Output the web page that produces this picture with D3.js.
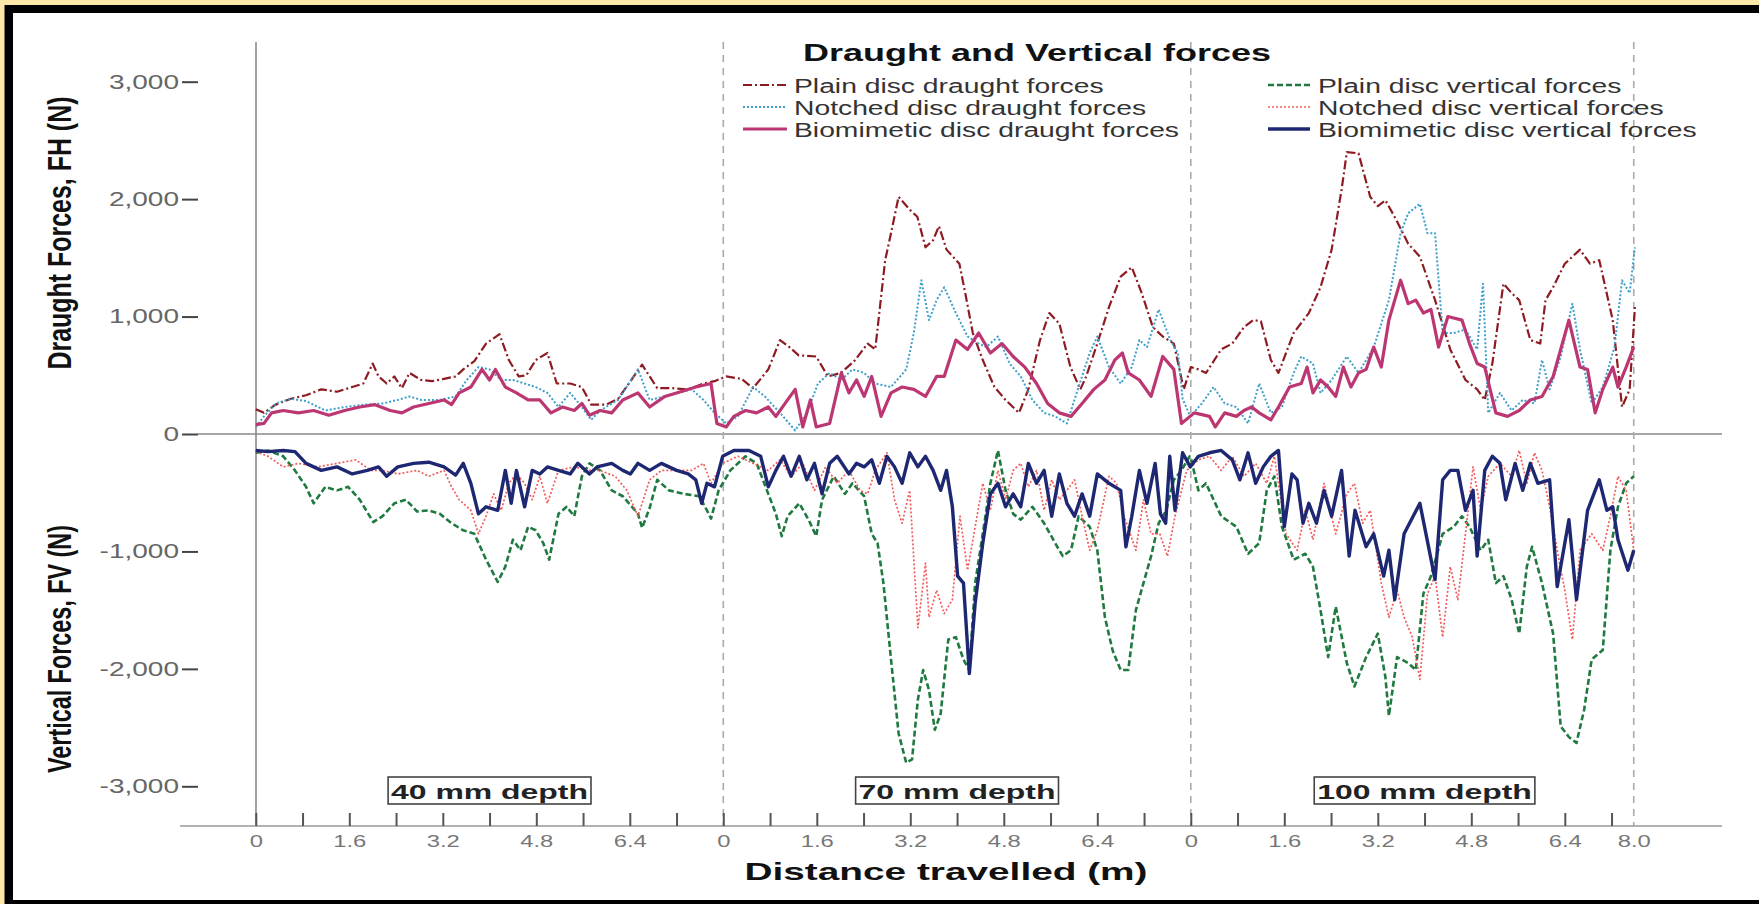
<!DOCTYPE html>
<html>
<head>
<meta charset="utf-8">
<script src="https://cdn.jsdelivr.net/npm/d3@7"></script>
<style>
  html, body { margin: 0; padding: 0; background: #fde8a9; }
  svg { display: block; }
  text { font-family: "Liberation Sans", Arial, sans-serif; }
</style>
</head>
<body>
<svg id="chart" width="1759" height="904"></svg>
<script>
// ---- Data: force readings [distance along run (m), force (N)] for each depth ----
const depthLabels = ["40 mm depth", "70 mm depth", "100 mm depth"];
const runLength = 8.0;                 // each depth run occupies 8 m on the shared axis
const xTickLabels = ["0", "", "1.6", "", "3.2", "", "4.8", "", "6.4", ""];
const xEndLabel = "8.0";
const yTicks = [-3000, -2000, -1000, 0, 1000, 2000, 3000];

const plainDraught40 = [[0,210],[0.14,180],[0.34,250],[0.6,300],[0.86,330],[1.12,380],[1.39,360],[1.65,400],[1.84,430],[2.0,600],[2.1,490],[2.24,430],[2.37,490],[2.5,390],[2.63,520],[2.83,460],[3.02,450],[3.22,470],[3.42,490],[3.55,550],[3.74,620],[3.94,770],[4.17,850],[4.33,630],[4.5,490],[4.63,500],[4.79,630],[4.99,690],[5.15,430],[5.38,430],[5.58,400],[5.74,250],[6.0,250],[6.2,300],[6.61,590],[6.87,390],[7.13,390],[7.4,380],[7.66,430],[7.85,450]];
const plainDraught70 = [[0.05,490],[0.31,470],[0.51,390],[0.77,550],[0.97,800],[1.13,740],[1.29,670],[1.59,660],[1.79,490],[2.01,520],[2.24,620],[2.47,770],[2.6,720],[2.77,1480],[2.87,1710],[3.0,2020],[3.19,1910],[3.32,1850],[3.46,1590],[3.59,1650],[3.69,1770],[3.82,1570],[4.04,1450],[4.14,1200],[4.27,860],[4.44,630],[4.64,400],[4.83,290],[5.06,180],[5.22,380],[5.42,800],[5.58,1030],[5.75,940],[5.94,570],[6.11,380],[6.21,490],[6.4,770],[6.6,1080],[6.8,1340],[6.99,1420],[7.16,1200],[7.35,910],[7.52,830],[7.71,770],[7.88,380]];
const plainDraught100 = [[0,570],[0.13,550],[0.26,520],[0.52,720],[0.71,770],[0.91,910],[1.07,970],[1.2,960],[1.37,630],[1.5,520],[1.63,690],[1.76,860],[2.02,1030],[2.22,1250],[2.41,1570],[2.58,2080],[2.67,2400],[2.87,2390],[3.07,2020],[3.2,1940],[3.33,1990],[3.52,1820],[3.72,1620],[3.92,1510],[4.18,1140],[4.44,720],[4.7,460],[4.9,380],[5.03,290],[5.16,600],[5.35,1280],[5.49,1200],[5.62,1140],[5.81,800],[5.98,770],[6.07,1140],[6.2,1250],[6.4,1450],[6.66,1570],[6.83,1450],[6.99,1480],[7.22,970],[7.38,230],[7.51,380],[7.6,1080]];

const notchedDraught40 = [[0,60],[0.14,150],[0.34,260],[0.6,300],[0.86,280],[1.19,200],[1.52,230],[1.84,250],[2.17,260],[2.43,290],[2.63,320],[2.83,290],[3.15,290],[3.42,320],[3.61,460],[3.81,570],[4.0,550],[4.2,460],[4.4,460],[4.6,430],[4.79,400],[4.99,350],[5.18,230],[5.38,350],[5.58,230],[5.74,120],[5.89,200],[6.2,290],[6.54,550],[6.74,290],[7.0,320],[7.2,350],[7.46,380],[7.66,290],[7.85,180]];
const notchedDraught70 = [[0.05,90],[0.25,150],[0.51,400],[0.71,320],[0.97,180],[1.23,30],[1.43,180],[1.62,430],[1.82,520],[2.02,460],[2.21,550],[2.41,520],[2.6,430],[2.87,400],[3.13,550],[3.26,860],[3.39,1310],[3.52,970],[3.65,1140],[3.78,1250],[3.98,1030],[4.18,830],[4.37,770],[4.5,740],[4.7,830],[4.9,600],[5.09,490],[5.29,290],[5.49,180],[5.68,150],[5.88,90],[6.08,400],[6.27,690],[6.4,830],[6.6,570],[6.8,430],[6.99,570],[7.12,800],[7.25,740],[7.45,1060],[7.65,800],[7.78,690],[7.86,300],[7.99,150]];
const notchedDraught100 = [[0.19,260],[0.39,400],[0.58,260],[0.78,230],[0.98,90],[1.17,430],[1.37,180],[1.56,230],[1.76,520],[1.89,660],[2.09,600],[2.22,350],[2.41,460],[2.67,660],[2.87,520],[3.13,740],[3.39,1140],[3.59,1710],[3.72,1880],[3.92,1960],[4.05,1710],[4.18,1710],[4.31,860],[4.5,860],[4.7,890],[4.9,720],[5.0,1280],[5.09,180],[5.29,350],[5.49,200],[5.68,290],[5.88,260],[6.01,630],[6.14,380],[6.33,660],[6.53,1110],[6.66,720],[6.86,260],[7.05,400],[7.25,740],[7.38,1310],[7.51,1200],[7.6,1590]];

const bioDraught40 = [[0,80],[0.14,90],[0.27,180],[0.47,200],[0.73,180],[0.99,200],[1.25,160],[1.52,200],[1.78,230],[2.04,250],[2.3,200],[2.5,180],[2.7,230],[2.96,260],[3.22,290],[3.35,250],[3.48,350],[3.68,400],[3.87,550],[4.0,460],[4.1,550],[4.27,400],[4.46,350],[4.66,290],[4.86,290],[5.05,180],[5.25,230],[5.45,200],[5.58,260],[5.71,160],[5.89,200],[6.09,180],[6.28,290],[6.54,350],[6.74,230],[7.0,320],[7.27,360],[7.53,400],[7.79,430],[7.89,90]];
const bioDraught70 = [[0.05,60],[0.18,150],[0.38,200],[0.57,180],[0.77,230],[0.9,150],[1.1,290],[1.23,380],[1.36,60],[1.49,290],[1.59,60],[1.82,90],[2.02,520],[2.15,350],[2.28,460],[2.41,320],[2.54,490],[2.7,150],[2.87,350],[3.06,400],[3.26,380],[3.46,320],[3.65,490],[3.78,490],[3.98,800],[4.18,720],[4.37,860],[4.57,690],[4.77,770],[4.96,660],[5.16,570],[5.36,430],[5.55,260],[5.75,180],[5.95,150],[6.14,260],[6.34,380],[6.53,460],[6.7,630],[6.83,690],[6.93,520],[7.12,460],[7.32,320],[7.52,660],[7.71,550],[7.84,90]];
const bioDraught100 = [[0.06,180],[0.32,150],[0.42,60],[0.58,180],[0.78,150],[0.91,200],[1.04,230],[1.17,180],[1.37,120],[1.5,230],[1.69,400],[1.89,430],[1.99,570],[2.09,350],[2.22,460],[2.35,400],[2.48,320],[2.61,570],[2.74,400],[2.87,520],[3.0,550],[3.13,740],[3.26,570],[3.39,970],[3.59,1310],[3.72,1110],[3.85,1140],[3.98,1030],[4.11,1060],[4.24,740],[4.4,1000],[4.64,970],[4.77,770],[4.9,600],[5.03,570],[5.22,180],[5.42,150],[5.62,200],[5.81,290],[6.01,320],[6.2,490],[6.47,970],[6.66,570],[6.79,550],[6.92,180],[7.05,380],[7.22,570],[7.31,400],[7.45,570],[7.58,740]];

const plainVertical40 = [[0,-160],[0.21,-140],[0.47,-190],[0.67,-310],[0.86,-450],[0.99,-590],[1.19,-450],[1.39,-480],[1.58,-450],[1.78,-560],[2.01,-750],[2.17,-700],[2.37,-590],[2.57,-560],[2.76,-660],[2.96,-650],[3.15,-680],[3.35,-760],[3.55,-820],[3.74,-850],[3.94,-1070],[4.14,-1260],[4.27,-1130],[4.4,-900],[4.53,-990],[4.66,-790],[4.79,-820],[4.92,-930],[5.02,-1070],[5.18,-680],[5.32,-620],[5.45,-700],[5.58,-360],[5.71,-250],[5.89,-310],[6.09,-480],[6.28,-530],[6.54,-680],[6.61,-800],[6.74,-630],[6.87,-390],[7.07,-480],[7.33,-510],[7.59,-530],[7.72,-650],[7.79,-720],[7.92,-480]];
const plainVertical70 = [[0.12,-310],[0.38,-190],[0.57,-250],[0.77,-510],[0.9,-680],[1.0,-870],[1.1,-700],[1.3,-590],[1.46,-730],[1.59,-870],[1.69,-560],[1.89,-360],[2.08,-510],[2.21,-420],[2.41,-530],[2.54,-850],[2.64,-930],[2.74,-1270],[2.87,-1920],[3.0,-2550],[3.13,-2800],[3.23,-2770],[3.33,-2260],[3.42,-2010],[3.52,-2180],[3.62,-2520],[3.72,-2380],[3.85,-1750],[3.98,-1730],[4.11,-1920],[4.21,-2010],[4.31,-1270],[4.44,-850],[4.57,-420],[4.7,-140],[4.83,-480],[4.96,-680],[5.09,-730],[5.29,-620],[5.49,-760],[5.68,-930],[5.81,-1040],[5.95,-990],[6.08,-700],[6.27,-790],[6.4,-990],[6.53,-1560],[6.66,-1840],[6.8,-2010],[6.93,-2010],[7.06,-1500],[7.19,-1270],[7.32,-1040],[7.45,-760],[7.58,-650],[7.71,-390],[7.84,-310],[7.98,-190]];
const plainVertical100 = [[0,-200],[0.13,-480],[0.26,-420],[0.52,-700],[0.78,-790],[0.98,-1020],[1.17,-930],[1.3,-480],[1.43,-360],[1.56,-790],[1.76,-1070],[1.96,-1020],[2.09,-1130],[2.22,-1500],[2.35,-1900],[2.48,-1470],[2.67,-1950],[2.8,-2150],[3.0,-1900],[3.2,-1700],[3.33,-2070],[3.39,-2400],[3.53,-1900],[3.72,-1950],[3.85,-2010],[3.98,-1360],[4.11,-1210],[4.31,-850],[4.5,-790],[4.64,-700],[4.77,-790],[4.96,-990],[5.09,-900],[5.22,-1270],[5.35,-1210],[5.49,-1410],[5.62,-1700],[5.75,-1130],[5.84,-960],[6.01,-1270],[6.2,-1700],[6.33,-2490],[6.47,-2580],[6.6,-2630],[6.73,-2350],[6.86,-1920],[7.05,-1840],[7.18,-990],[7.31,-620],[7.45,-420],[7.58,-360]];

const notchedVertical40 = [[0,-150],[0.21,-190],[0.47,-280],[0.73,-250],[1.06,-280],[1.39,-250],[1.71,-220],[1.97,-310],[2.17,-310],[2.43,-340],[2.76,-310],[2.96,-360],[3.22,-310],[3.35,-450],[3.48,-560],[3.68,-650],[3.81,-850],[3.94,-700],[4.07,-510],[4.2,-650],[4.33,-420],[4.46,-340],[4.6,-420],[4.73,-560],[4.86,-360],[4.99,-590],[5.18,-310],[5.45,-280],[5.71,-310],[5.89,-310],[6.15,-360],[6.35,-480],[6.54,-700],[6.74,-390],[6.94,-310],[7.2,-310],[7.46,-310],[7.66,-250],[7.79,-420],[7.99,-250]];
const notchedVertical70 = [[0.25,-190],[0.51,-250],[0.77,-310],[0.97,-220],[1.16,-360],[1.36,-250],[1.56,-480],[1.75,-280],[1.95,-420],[2.15,-310],[2.34,-480],[2.47,-510],[2.6,-310],[2.8,-160],[2.93,-560],[3.06,-760],[3.19,-480],[3.33,-1650],[3.46,-1100],[3.52,-1560],[3.65,-1330],[3.78,-1530],[3.92,-1410],[4.05,-700],[4.18,-1160],[4.31,-790],[4.44,-420],[4.57,-650],[4.7,-310],[4.83,-560],[4.96,-310],[5.09,-250],[5.22,-450],[5.36,-310],[5.49,-650],[5.62,-390],[5.75,-560],[5.88,-480],[6.01,-390],[6.14,-700],[6.27,-990],[6.4,-820],[6.6,-360],[6.73,-420],[6.86,-700],[7.06,-990],[7.19,-560],[7.32,-850],[7.47,-850],[7.6,-1040],[7.73,-700],[7.93,-310]];
const notchedVertical100 = [[0.13,-220],[0.32,-190],[0.52,-310],[0.71,-190],[0.91,-360],[1.11,-250],[1.3,-420],[1.43,-190],[1.63,-850],[1.82,-990],[1.96,-650],[2.09,-900],[2.28,-420],[2.48,-850],[2.67,-510],[2.8,-420],[2.94,-760],[3.07,-650],[3.26,-1270],[3.39,-1560],[3.53,-1330],[3.65,-1560],[3.79,-1730],[3.92,-2090],[4.05,-1360],[4.18,-1210],[4.31,-1730],[4.44,-1130],[4.57,-1410],[4.7,-850],[4.83,-280],[4.96,-650],[5.09,-360],[5.29,-250],[5.49,-360],[5.62,-140],[5.75,-420],[5.88,-160],[6.01,-310],[6.14,-620],[6.27,-990],[6.4,-1330],[6.53,-1750],[6.66,-990],[6.86,-850],[7.05,-990],[7.18,-700],[7.31,-360],[7.45,-480],[7.58,-990]];

const bioVertical40 = [[0,-140],[0.21,-150],[0.47,-140],[0.67,-150],[0.86,-250],[1.12,-310],[1.39,-280],[1.65,-340],[1.91,-310],[2.1,-280],[2.24,-360],[2.43,-280],[2.7,-250],[2.96,-240],[3.22,-280],[3.42,-350],[3.55,-250],[3.68,-420],[3.81,-680],[3.94,-620],[4.14,-650],[4.27,-310],[4.37,-590],[4.46,-310],[4.6,-620],[4.73,-310],[4.86,-340],[4.99,-280],[5.18,-310],[5.38,-340],[5.51,-250],[5.71,-340],[5.84,-280],[6.09,-250],[6.28,-310],[6.41,-340],[6.54,-250],[6.74,-310],[6.94,-250],[7.2,-310],[7.4,-340],[7.53,-390],[7.63,-590],[7.72,-420],[7.85,-450],[7.99,-190]];
const bioVertical70 = [[0.18,-140],[0.44,-140],[0.64,-190],[0.77,-450],[0.9,-310],[1.03,-190],[1.16,-360],[1.3,-190],[1.43,-390],[1.56,-250],[1.69,-510],[1.82,-250],[1.95,-190],[2.15,-340],[2.28,-250],[2.41,-280],[2.54,-220],[2.67,-420],[2.8,-190],[2.93,-280],[3.06,-420],[3.19,-160],[3.33,-280],[3.46,-190],[3.59,-310],[3.72,-480],[3.82,-310],[3.92,-620],[4.01,-1210],[4.11,-1270],[4.21,-2040],[4.31,-1440],[4.44,-930],[4.57,-510],[4.7,-420],[4.83,-620],[4.96,-510],[5.09,-620],[5.22,-250],[5.36,-420],[5.49,-310],[5.62,-700],[5.75,-340],[5.88,-590],[6.01,-700],[6.14,-510],[6.27,-700],[6.4,-340],[6.6,-420],[6.8,-480],[6.89,-960],[6.99,-700],[7.12,-310],[7.25,-590],[7.39,-250],[7.48,-680],[7.57,-760],[7.64,-190],[7.73,-650],[7.86,-160],[7.99,-280]];
const bioVertical100 = [[0.13,-190],[0.32,-160],[0.52,-140],[0.71,-220],[0.84,-390],[0.98,-160],[1.11,-420],[1.24,-280],[1.37,-190],[1.5,-140],[1.6,-790],[1.73,-340],[1.82,-390],[1.92,-760],[2.02,-590],[2.15,-760],[2.28,-480],[2.41,-700],[2.58,-310],[2.71,-1040],[2.81,-650],[3.0,-960],[3.13,-850],[3.3,-1210],[3.39,-990],[3.49,-1410],[3.65,-850],[3.92,-590],[4.18,-1240],[4.31,-390],[4.44,-310],[4.57,-310],[4.7,-650],[4.83,-480],[4.9,-1040],[5.03,-310],[5.16,-190],[5.29,-250],[5.39,-560],[5.55,-250],[5.68,-480],[5.81,-250],[5.94,-420],[6.14,-390],[6.27,-1300],[6.47,-730],[6.6,-1410],[6.79,-650],[6.99,-390],[7.12,-650],[7.22,-620],[7.31,-900],[7.48,-1160],[7.58,-990]];

// ---- Series styling ----
const series = [
  { name: "Plain disc draught forces",        runs: [plainDraught40, plainDraught70, plainDraught100],       color: "#8e1b22", width: 2.2, dash: "9,3,2,3" },
  { name: "Notched disc draught forces",      runs: [notchedDraught40, notchedDraught70, notchedDraught100], color: "#3d9fcb", width: 2.0, dash: "2,2" },
  { name: "Biomimetic disc draught forces",   runs: [bioDraught40, bioDraught70, bioDraught100],             color: "#bc3772", width: 3.2, dash: null },
  { name: "Plain disc vertical forces",       runs: [plainVertical40, plainVertical70, plainVertical100],    color: "#1f7a3f", width: 2.6, dash: "6,3" },
  { name: "Notched disc vertical forces",     runs: [notchedVertical40, notchedVertical70, notchedVertical100], color: "#f25c5c", width: 1.7, dash: "2,2" },
  { name: "Biomimetic disc vertical forces",  runs: [bioVertical40, bioVertical70, bioVertical100],          color: "#1e2872", width: 3.4, dash: null }
];

// ---- Layout ----
const W = 1759, H = 904;
const plotTop = 42, axisY = 826, axisLeft = 180, axisRight = 1722, yAxisX = 256;
const x = d3.scaleLinear().domain([0, runLength]).range([255.8, 723.3]);
const y = d3.scaleLinear().domain([-3000, 3000]).range([786.3, 81.7]);

const svg = d3.select("#chart");

// Text helpers: widen or fit glyph runs horizontally
function stretch(sel, k) {
  sel.each(function () {
    const w = this.getComputedTextLength();
    this.setAttribute("textLength", w * k);
    this.setAttribute("lengthAdjust", "spacingAndGlyphs");
  });
  return sel;
}
function fitTo(sel, w) {
  sel.attr("textLength", w).attr("lengthAdjust", "spacingAndGlyphs");
  return sel;
}

// Frame
svg.append("rect").attr("width", W).attr("height", H).attr("fill", "#fde8a9");
svg.append("rect").attr("x", 4.5).attr("y", 5).attr("width", W + 40).attr("height", H + 40).attr("fill", "#000");
svg.append("rect").attr("x", 13).attr("y", 13).attr("width", W + 40).attr("height", 887).attr("fill", "#fff");

// Vertical axis line and zero line
svg.append("line").attr("x1", yAxisX).attr("x2", yAxisX).attr("y1", plotTop).attr("y2", axisY)
  .attr("stroke", "#8a8a8a").attr("stroke-width", 1.6);
svg.append("line").attr("x1", 198).attr("x2", axisRight).attr("y1", y(0)).attr("y2", y(0))
  .attr("stroke", "#8a8a8a").attr("stroke-width", 1.6);

// Run separators
const runEnds = [runLength, 2 * runLength, 2 * runLength + d3.max(bioVertical100, d => d[0])];
svg.append("g").selectAll("line").data(runEnds).join("line")
  .attr("x1", d => x(d)).attr("x2", d => x(d)).attr("y1", plotTop).attr("y2", axisY)
  .attr("stroke", "#aaaaaa").attr("stroke-width", 1.6).attr("stroke-dasharray", "7,6");

// Y axis ticks and labels
const yAxis = d3.axisLeft(y).tickValues(yTicks).tickSize(16).tickPadding(3)
  .tickFormat(d => d3.format(",")(d).replace("\u2212", "-"));
const gy = svg.append("g").attr("transform", "translate(198,0)").call(yAxis);
gy.select(".domain").remove();
gy.selectAll(".tick line").attr("stroke", "#444").attr("stroke-width", 2);
gy.selectAll(".tick text").attr("fill", "#666").attr("font-size", 20)
  .attr("font-family", "'Liberation Sans', Arial, sans-serif");
stretch(gy.selectAll(".tick text"), 1.4);

// X axis
const tickVals = [], tickText = [];
for (let r = 0; r < 3; r++) {
  xTickLabels.forEach((lab, k) => { tickVals.push(r * runLength + k * 0.8); tickText.push(lab); });
}
tickVals.push(runEnds[2]); tickText.push(xEndLabel);
svg.append("line").attr("x1", axisLeft).attr("x2", axisRight).attr("y1", axisY).attr("y2", axisY)
  .attr("stroke", "#999").attr("stroke-width", 1.6);
const xAxis = d3.axisBottom(x).tickValues(tickVals).tickSize(-13).tickPadding(9)
  .tickFormat((d, i) => tickText[i]);
const gx = svg.append("g").attr("transform", `translate(0,${axisY})`).call(xAxis);
gx.select(".domain").remove();
gx.selectAll(".tick line").attr("stroke", "#555").attr("stroke-width", 2)
  .attr("display", (d, i) => i === tickVals.length - 1 ? "none" : null);
gx.selectAll(".tick text").attr("fill", "#777").attr("font-size", 17)
  .attr("font-family", "'Liberation Sans', Arial, sans-serif");
stretch(gx.selectAll(".tick text").filter(function () { return this.textContent !== ""; }), 1.4);

// Series lines
const line = d3.line().x(d => x(d[0])).y(d => y(d[1]));
const gLines = svg.append("g");
series.forEach(s => {
  const pts = s.runs.flatMap((run, r) => run.map(([d, f]) => [r * runLength + d, f]));
  gLines.append("path").datum(pts).attr("d", line)
    .attr("fill", "none").attr("stroke", s.color).attr("stroke-width", s.width)
    .attr("stroke-dasharray", s.dash).attr("stroke-linejoin", "round");
});

// Depth labels in boxes
depthLabels.forEach((lab, r) => {
  const g = svg.append("g");
  const t = g.append("text").attr("x", x(r * runLength + 4)).attr("y", 799)
    .attr("text-anchor", "middle").attr("font-size", 21).attr("font-weight", "bold")
    .attr("fill", "#222").text(lab);
  stretch(t, 1.52);
  const w = +t.attr("textLength");
  g.insert("rect", "text").attr("x", x(r * runLength + 4) - w / 2 - 3).attr("y", 777)
    .attr("width", w + 6).attr("height", 27).attr("fill", "#fff")
    .attr("stroke", "#444").attr("stroke-width", 1.6);
});

// Title and legend
fitTo(svg.append("text").attr("x", 1037).attr("y", 61).attr("text-anchor", "middle")
  .attr("font-size", 23).attr("font-weight", "bold").attr("fill", "#111")
  .text("Draught and Vertical forces"), 468);

const legendCols = [{ x0: 743, x1: 787, tx: 794 }, { x0: 1268, x1: 1310, tx: 1318 }];
series.forEach((s, i) => {
  const col = legendCols[Math.floor(i / 3)], rowY = 85 + (i % 3) * 22;
  svg.append("line").attr("x1", col.x0).attr("x2", col.x1).attr("y1", rowY).attr("y2", rowY)
    .attr("stroke", s.color).attr("stroke-width", s.width).attr("stroke-dasharray", s.dash);
  const t = svg.append("text").attr("x", col.tx).attr("y", rowY + 7.5)
    .attr("font-size", 19.5).attr("fill", "#333").text(s.name);
  stretch(t, 1.45);
});

// Axis titles
fitTo(svg.append("text").attr("x", 946).attr("y", 880).attr("text-anchor", "middle")
  .attr("font-size", 24).attr("font-weight", "bold").attr("fill", "#111")
  .text("Distance travelled (m)"), 403);
fitTo(svg.append("text").attr("transform", "translate(71,233) rotate(-90)").attr("text-anchor", "middle")
  .attr("font-size", 33).attr("font-weight", "bold").attr("fill", "#111")
  .text("Draught Forces, FH (N)"), 273);
fitTo(svg.append("text").attr("transform", "translate(71,649) rotate(-90)").attr("text-anchor", "middle")
  .attr("font-size", 33).attr("font-weight", "bold").attr("fill", "#111")
  .text("Vertical Forces, FV (N)"), 248);
</script>
</body>
</html>
